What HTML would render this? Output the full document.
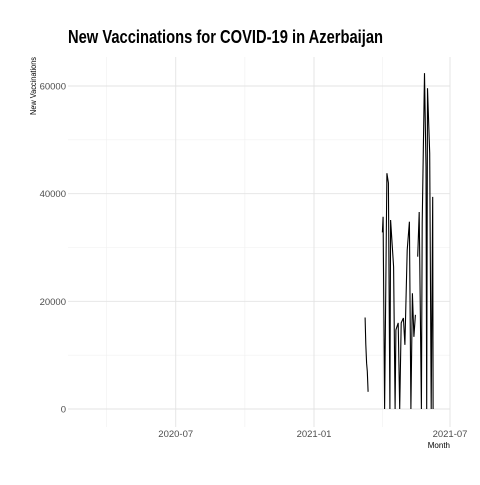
<!DOCTYPE html>
<html><head><meta charset="utf-8"><style>
body{margin:0;background:#fff}
svg{font-family:"Liberation Sans Narrow","Liberation Sans",sans-serif}
</style></head><body>
<svg width="480" height="480">
<rect width="480" height="480" fill="#fff"/>
<text x="68" y="43" font-size="18" font-weight="bold" fill="#000" textLength="315" lengthAdjust="spacingAndGlyphs">New Vaccinations for COVID-19 in Azerbaijan</text>
<g id="grid"></g>
<g id="ticks"></g>
<path id="line" fill="none" stroke="#000" stroke-width="1.1"/>
<text transform="translate(36,57) rotate(-90)" text-anchor="end" font-size="8" fill="#000" textLength="58" lengthAdjust="spacingAndGlyphs">New Vaccinations</text>
<text x="450" y="448" text-anchor="end" font-size="8" fill="#000">Month</text>
</svg>
<script>
// days relative to 2021-01-01; null = gap
const days = [68,69,70,71,72,null,91,92,94,97,99,101,102,106,108,109,112,114,116,119,121,124,127,129,131,133,135,null,138,140,143,144,147,149,150,151,154,156,158,158.5];
const values = [17000,12000,8500,7000,3200,null,32800,35700,0,43800,42000,0,35100,26400,0,14700,16000,0,16000,16900,11900,29500,34800,0,21500,13400,17500,null,28300,36600,0,34500,62400,45000,0,59600,47500,0,39400,0];
const yTicks = [0,20000,40000,60000];
const yMinor = [10000,30000,50000];
const xTickDays = [-184,0,181];
const xTickLabels = ["2020-07","2021-01","2021-07"];
const xMinorDays = [-276,-92,91];

const x = d => 314 + d*(136/181);
const y = v => 409 - v*(323/60000);
const ns="http://www.w3.org/2000/svg";
const grid=document.getElementById('grid'), ticks=document.getElementById('ticks');
function ln(x1,y1,x2,y2,c,w,name){const l=document.createElementNS(ns,'line');
l.setAttribute('x1',x1);l.setAttribute('y1',y1);l.setAttribute('x2',x2);l.setAttribute('y2',y2);
l.setAttribute('stroke',c);l.setAttribute('stroke-width',w);


grid.appendChild(l);}
yMinor.forEach(v=>ln(68,y(v),450,y(v),'#f0f0f0',0.6,'y-minor-gridline'));
xMinorDays.forEach(d=>ln(x(d),57,x(d),427,'#f0f0f0',0.6,'x-minor-gridline'));
yTicks.forEach(v=>ln(68,y(v),450,y(v),'#e3e3e3',0.9,'y-gridline'));
xTickDays.forEach(d=>ln(x(d),57,x(d),427,'#e3e3e3',0.9,'x-gridline'));
function tx(xx,yy,s,anchor,name){const t=document.createElementNS(ns,'text');
t.setAttribute('x',xx);t.setAttribute('y',yy);t.setAttribute('text-anchor',anchor);
t.setAttribute('font-size','9.5');t.setAttribute('fill','#4d4d4d');t.textContent=s;


ticks.appendChild(t);}
yTicks.forEach(v=>tx(66,y(v)+3.5,String(v),'end','y-tick-label'));
xTickDays.forEach((d,i)=>tx(x(d),437,xTickLabels[i],'middle','x-tick-label'));
let p='',pen=false;
days.forEach((d,i)=>{if(d===null||values[i]===null){pen=false;return;}
p+=(pen?'L':'M')+x(d).toFixed(1)+','+y(values[i]).toFixed(1);pen=true;});
document.getElementById('line').setAttribute('d',p);
</script>
</body></html>
